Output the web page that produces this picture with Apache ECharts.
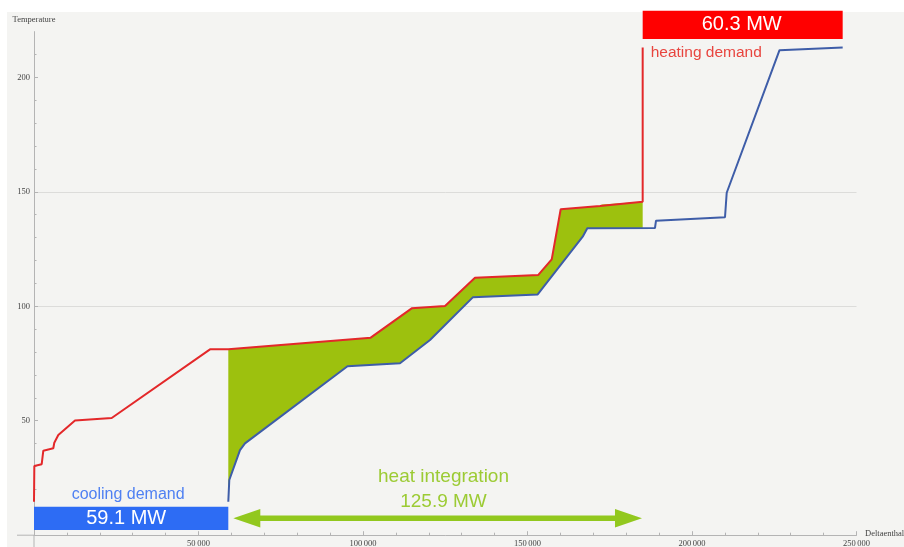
<!DOCTYPE html>
<html><head><meta charset="utf-8">
<script src="https://cdn.jsdelivr.net/npm/echarts@6/dist/echarts.min.js"></script>
<style>
html,body{margin:0;padding:0;background:#fff;overflow:hidden;}
#bg{position:absolute;left:7px;top:12px;right:0;bottom:0;background:#f4f4f2;}
#chart{position:absolute;left:0;top:0;width:904px;height:547px;}
</style></head><body>
<div id="bg"></div><div id="chart"></div>
<script>
// red composite curve (heating demand side) [Deltaenthalpy, Temperature]
const redCurve = [
  [0, 14.6], [100, 30.2], [2340, 31.0], [2830, 36.9], [5870, 38.0], [6170, 40.4],
  [7390, 43.8], [12460, 50.1], [23620, 51.2], [53500, 81.2], [59060, 81.2],
  [102340, 86.3], [114800, 99.1], [124930, 100.1], [134040, 112.5], [153290, 113.7],
  [157360, 120.5], [160090, 142.4], [172030, 143.8], [172550, 144.5], [185010, 145.7],
  [185010, 213.0]
];
// blue composite curve
const blueCurve = [
  [59060, 14.6], [59360, 24.1], [62610, 37.2], [64130, 40.1], [95290, 73.8],
  [111250, 75.1], [120370, 85.3], [133440, 104.0], [153100, 105.2], [166780, 130.4],
  [168180, 134.1], [188750, 134.2], [189060, 137.4], [210030, 138.9], [210550, 149.6],
  [226600, 211.9], [245800, 213.1]
];
// blue value at the right edge of the heat-integration region
const integrationBottomEnd = [185010, 134.1];

const xTicks = [50000, 100000, 150000, 200000, 250000];
const xTickLabels = ['50\u2009000', '100\u2009000', '150\u2009000', '200\u2009000', '250\u2009000'];
const yTicks = [50, 100, 150, 200];
const yTickLabels = ['50', '100', '150', '200'];
const yMinorTicks = [10,20,30,40,60,70,80,90,110,120,130,140,160,170,180,190,210];

// annotation spans along Deltaenthalpy
const coolingSpan = [0, 59060];
const heatingSpan = [185010, 245800];
const integrationSpan = [60580, 184800];
const coolingLabel = '59.1 MW', heatingLabel = '60.3 MW', integrationLabel = '125.9 MW';

const fillTop = redCurve.slice(10, 21);
const fillBottom = blueCurve.slice(0, 11).concat([integrationBottomEnd]);
const fillPoly = fillTop.concat(fillBottom.slice().reverse());

const serif = '"Liberation Serif", "DejaVu Serif", serif';
const sans = '"Liberation Sans", Arial, sans-serif';
const axisGray = '#b4b4b4';

const chart = echarts.init(document.getElementById('chart'), null, {renderer: 'canvas'});
chart.setOption({
  backgroundColor: 'transparent',
  animation: false,
  grid: {left: 34, right: 47.5, top: 31.6, bottom: 11.8, containLabel: false, outerBoundsMode: 'none'},
  xAxis: {
    type: 'value', min: 0, max: 250000, interval: 50000,
    axisLine: {show: true, onZero: false, lineStyle: {color: axisGray, width: 1}},
    axisTick: {show: true, inside: true, length: 4, lineStyle: {color: axisGray}},
    minorTick: {show: true, splitNumber: 5, length: 2.5, lineStyle: {color: axisGray}},
    axisLabel: {
      showMinLabel: false, margin: 4, fontFamily: serif, fontSize: 8.5, color: '#444',
      formatter: v => { const i = xTicks.indexOf(v); return i >= 0 ? xTickLabels[i] : ''; }
    },
    splitLine: {show: false}
  },
  yAxis: [{
    type: 'value', min: 0, max: 220, interval: 50, position: 'left',
    name: 'Temperature', nameLocation: 'end', nameGap: 7,
    nameTextStyle: {fontFamily: serif, fontSize: 8.5, color: '#444'},
    axisLine: {show: true, onZero: false, lineStyle: {color: axisGray, width: 1}},
    axisTick: {show: true, inside: true, length: 4, customValues: yTicks, lineStyle: {color: axisGray}},
    axisLabel: {
      showMinLabel: false, showMaxLabel: false, margin: 4, fontFamily: serif, fontSize: 8.5, color: '#444',
      formatter: v => { const i = yTicks.indexOf(v); return i >= 0 ? yTickLabels[i] : ''; }
    },
    splitLine: {show: true, showMinLine: false, showMaxLine: false, lineStyle: {color: '#dcdcda', width: 1}}
  }, {
    type: 'value', min: 0, max: 220, interval: 10, position: 'left',
    axisLine: {show: false, onZero: false},
    axisTick: {show: true, inside: true, length: 2.5, customValues: yMinorTicks, lineStyle: {color: axisGray}},
    axisLabel: {show: false},
    splitLine: {show: false}
  }],
  series: [{
    type: 'custom', silent: true, z: 1, data: [[0, 0]],
    renderItem: (params, api) => ({
      type: 'polygon',
      shape: {points: fillPoly.map(p => api.coord(p))},
      style: {fill: '#9dc10e'}
    })
  }, {
    type: 'line', data: blueCurve, showSymbol: false, z: 3,
    lineStyle: {color: '#3e5da8', width: 2}
  }, {
    type: 'line', data: redCurve, showSymbol: false, z: 4,
    lineStyle: {color: '#e3282a', width: 2}
  }]
});

function px(x, y) { return chart.convertToPixel({xAxisIndex: 0, yAxisIndex: 0}, [x, y]); }
const o = px(0, 0);
const xEnd = px(250000, 0);
const cL = px(coolingSpan[0], 0)[0], cR = px(coolingSpan[1], 0)[0];
const hL = px(heatingSpan[0], 0)[0], hR = px(heatingSpan[1], 0)[0];
const aL = px(integrationSpan[0], 0)[0], aR = px(integrationSpan[1], 0)[0];
const yc = 518.3, hl = 27, hh = 9.2, sh = 2.8;
const arrowPts = [
  [aL, yc], [aL + hl, yc - hh], [aL + hl, yc - sh], [aR - hl, yc - sh], [aR - hl, yc - hh],
  [aR, yc], [aR - hl, yc + hh], [aR - hl, yc + sh], [aL + hl, yc + sh], [aL + hl, yc + hh]
];
const green = '#92c81e';
chart.setOption({
  graphic: [
    {type: 'line', silent: true, shape: {x1: o[0] - 17, y1: o[1], x2: o[0], y2: o[1]}, style: {stroke: axisGray, lineWidth: 1}},
    {type: 'line', silent: true, shape: {x1: o[0], y1: o[1], x2: o[0], y2: 547}, style: {stroke: axisGray, lineWidth: 1}},
    {type: 'text', silent: true, x: xEnd[0] + 8.5, y: xEnd[1] - 1,
      style: {text: 'Deltaenthalpy', fill: '#444', font: '8.5px ' + serif, align: 'left', verticalAlign: 'middle'}},
    {type: 'rect', silent: true, z: 10, shape: {x: cL, y: 506.7, width: cR - cL, height: 23.3}, style: {fill: '#2d6cf4'}},
    {type: 'text', silent: true, z: 11, x: (cL + cR) / 2 - 5, y: 518.5,
      style: {text: coolingLabel, fill: '#fff', font: '20px ' + sans, align: 'center', verticalAlign: 'middle'}},
    {type: 'text', silent: true, z: 11, x: (cL + cR) / 2 - 3, y: 495,
      style: {text: 'cooling demand', fill: '#4f80f2', font: '16px ' + sans, align: 'center', verticalAlign: 'middle'}},
    {type: 'rect', silent: true, z: 10, shape: {x: hL, y: 10.7, width: hR - hL, height: 28.3}, style: {fill: '#ff0000'}},
    {type: 'text', silent: true, z: 11, x: (hL + hR) / 2 - 1, y: 24.5,
      style: {text: heatingLabel, fill: '#fff', font: '20px ' + sans, align: 'center', verticalAlign: 'middle'}},
    {type: 'text', silent: true, z: 11, x: hL + 8, y: 52.5,
      style: {text: 'heating demand', fill: '#e8453f', font: '15.5px ' + sans, align: 'left', verticalAlign: 'middle'}},
    {type: 'polygon', silent: true, z: 10, shape: {points: arrowPts}, style: {fill: green}},
    {type: 'text', silent: true, z: 11, x: 443.5, y: 477,
      style: {text: 'heat integration', fill: '#9ccb34', font: '19px ' + sans, align: 'center', verticalAlign: 'middle'}},
    {type: 'text', silent: true, z: 11, x: 443.5, y: 501.5,
      style: {text: integrationLabel, fill: '#9ccb34', font: '19px ' + sans, align: 'center', verticalAlign: 'middle'}}
  ]
});
</script>
</body></html>
